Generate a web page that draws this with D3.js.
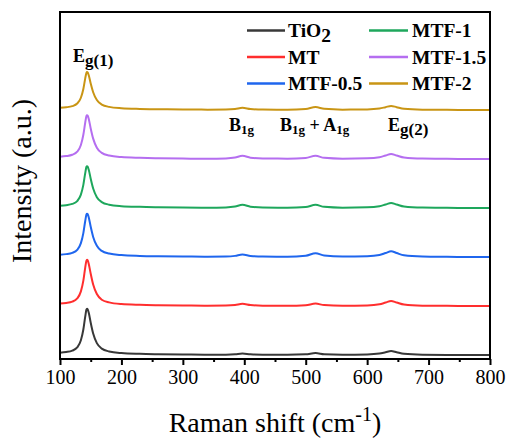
<!DOCTYPE html>
<html>
<head>
<meta charset="utf-8">
<script src="https://cdn.jsdelivr.net/npm/d3@7"></script>
<style>
  html, body { margin: 0; padding: 0; background: #ffffff; }
  svg { display: block; }
  text { font-family: "Liberation Serif", "Times New Roman", serif; fill: #000; }
</style>
</head>
<body>
<svg id="chart" width="512" height="440"></svg>
<script>
// Raman shift sampling (cm^-1)
const ramanShift = [100, 110, 120, 128, 134, 138, 141, 143, 144, 145, 147, 150, 154, 160, 168, 180, 200, 230, 260, 300,
  340, 370, 385, 397, 410, 430, 470, 500, 516, 530, 560, 600, 620, 630, 639, 648, 660, 690, 730, 770, 800];

// Intensities (a.u.), each spectrum before vertical stacking
const tio2 = [0.049, 0.062, 0.091, 0.156, 0.302, 0.522, 0.779, 0.927, 0.945, 0.936, 0.853, 0.659, 0.438, 0.244, 0.132, 0.074, 0.041, 0.025, 0.018, 0.013,
  0.008, 0.009, 0.016, 0.031, 0.015, 0.008, 0.007, 0.015, 0.040, 0.017, 0.007, 0.012, 0.030, 0.058, 0.084, 0.058, 0.025, 0.008, 0.004, 0.001, 0.000];
const mt = [0.050, 0.062, 0.090, 0.155, 0.300, 0.520, 0.780, 0.925, 0.945, 0.935, 0.850, 0.660, 0.440, 0.245, 0.130, 0.075, 0.040, 0.025, 0.018, 0.013,
  0.008, 0.011, 0.022, 0.046, 0.021, 0.009, 0.007, 0.018, 0.050, 0.020, 0.007, 0.014, 0.036, 0.072, 0.104, 0.072, 0.031, 0.009, 0.004, 0.001, 0.000];
const mtf05 = [0.048, 0.060, 0.086, 0.147, 0.284, 0.489, 0.730, 0.868, 0.885, 0.876, 0.799, 0.617, 0.411, 0.229, 0.125, 0.071, 0.040, 0.024, 0.017, 0.013,
  0.008, 0.011, 0.024, 0.051, 0.023, 0.010, 0.008, 0.026, 0.080, 0.031, 0.009, 0.016, 0.041, 0.082, 0.119, 0.082, 0.035, 0.010, 0.004, 0.001, 0.000];
const mtf1 = [0.047, 0.059, 0.084, 0.143, 0.275, 0.473, 0.706, 0.838, 0.855, 0.847, 0.772, 0.597, 0.398, 0.222, 0.122, 0.069, 0.039, 0.024, 0.017, 0.012,
  0.008, 0.013, 0.031, 0.066, 0.028, 0.011, 0.008, 0.022, 0.065, 0.025, 0.008, 0.014, 0.036, 0.072, 0.104, 0.072, 0.031, 0.009, 0.004, 0.001, 0.000];
const mtf15 = [0.048, 0.060, 0.087, 0.149, 0.287, 0.495, 0.738, 0.878, 0.895, 0.886, 0.808, 0.624, 0.416, 0.232, 0.126, 0.071, 0.040, 0.025, 0.017, 0.010,
  0.004, 0.012, 0.031, 0.066, 0.028, 0.011, 0.008, 0.022, 0.065, 0.025, 0.008, 0.014, 0.036, 0.072, 0.104, 0.072, 0.031, 0.009, 0.004, 0.001, 0.000];
const mtf2 = [0.046, 0.056, 0.079, 0.132, 0.251, 0.430, 0.640, 0.760, 0.775, 0.768, 0.700, 0.542, 0.362, 0.203, 0.112, 0.064, 0.037, 0.023, 0.017, 0.012,
  0.008, 0.011, 0.022, 0.046, 0.021, 0.009, 0.007, 0.020, 0.060, 0.024, 0.008, 0.012, 0.030, 0.058, 0.084, 0.058, 0.025, 0.008, 0.004, 0.001, 0.000];

const seriesNames = ["TiO2", "MT", "MTF-0.5", "MTF-1", "MTF-1.5", "MTF-2"];
const seriesValues = [tio2, mt, mtf05, mtf1, mtf15, mtf2];
const stackOffset = [0, 1, 2, 3, 4, 5];
const seriesColors = ["#383838", "#ff2e2e", "#1f66ee", "#1ea75c", "#b56ef0", "#c99514"];

const xTicks = [100, 200, 300, 400, 500, 600, 700, 800];
const xMinorTicks = [150, 250, 350, 450, 550, 650, 750];

const serif = '"Liberation Serif", "Times New Roman", serif';
const svg = d3.select("#chart");
const plot = { left: 60, right: 490, top: 12, bottom: 359 };

const x = d3.scaleLinear().domain([100, 800]).range([plot.left, plot.right]);
const y = d3.scaleLinear().domain([-0.08, 7.0]).range([plot.bottom, plot.top]);

// Spectra, stacked bottom to top
const line = d3.line()
  .x(d => x(d[0]))
  .y(d => y(d[1]))
  .curve(d3.curveMonotoneX);

const spectra = seriesValues.map((vals, i) =>
  ramanShift.map((s, k) => [s, vals[k] + stackOffset[i]]));

svg.append("g")
  .selectAll("path")
  .data(spectra)
  .join("path")
  .attr("d", line)
  .attr("fill", "none")
  .attr("stroke", (d, i) => seriesColors[i])
  .attr("stroke-width", 2)
  .attr("stroke-linejoin", "round");

// Frame
svg.append("rect")
  .attr("x", plot.left).attr("y", plot.top)
  .attr("width", plot.right - plot.left).attr("height", plot.bottom - plot.top)
  .attr("fill", "none").attr("stroke", "#000").attr("stroke-width", 2);

// Bottom axis: major and minor ticks
const axisMajor = d3.axisBottom(x).tickValues(xTicks).tickSize(6).tickPadding(5).tickFormat(d3.format("d"));
const gx = svg.append("g").attr("transform", `translate(0,${plot.bottom})`).call(axisMajor)
  .attr("font-family", serif).attr("font-size", 20);
gx.select(".domain").remove();
gx.selectAll("line").attr("stroke", "#000").attr("stroke-width", 2);
gx.selectAll("text").attr("fill", "#000");

const axisMinor = d3.axisBottom(x).tickValues(xMinorTicks).tickSize(3).tickFormat("");
const gm = svg.append("g").attr("transform", `translate(0,${plot.bottom})`).call(axisMinor);
gm.select(".domain").remove();
gm.selectAll("line").attr("stroke", "#000").attr("stroke-width", 2);

// Axis titles
const xTitle = svg.append("text")
  .attr("x", 275).attr("y", 432)
  .attr("text-anchor", "middle")
  .style("font-size", "28px");
xTitle.append("tspan").text("Raman shift (cm");
xTitle.append("tspan").attr("dy", -11).style("font-size", "20px").text("-1");
xTitle.append("tspan").attr("dy", 11).text(")");

svg.append("text")
  .attr("transform", "translate(31,181) rotate(-90)")
  .attr("text-anchor", "middle")
  .style("font-size", "28px")
  .text("Intensity (a.u.)");

// Legend
function labelWithSub(sel, name) {
  if (name === "TiO2") {
    sel.append("tspan").text("TiO");
    sel.append("tspan").attr("dy", 5).text("2");
  } else {
    sel.text(name);
  }
}

const legendCols = [{ x0: 247, x1: 285, tx: 288 }, { x0: 369, x1: 408, tx: 412 }];
const legendRows = [37, 63.5, 90];
seriesNames.forEach((name, i) => {
  const col = legendCols[Math.floor(i / 3)];
  const base = legendRows[i % 3];
  svg.append("line")
    .attr("x1", col.x0).attr("x2", col.x1)
    .attr("y1", base - 6.5).attr("y2", base - 6.5)
    .attr("stroke", seriesColors[i]).attr("stroke-width", 2.5);
  const t = svg.append("text")
    .attr("x", col.tx).attr("y", base)
    .style("font-size", "19.5px").style("font-weight", "bold");
  labelWithSub(t, name);
});

// Raman mode labels
function modeLabel(xPos, yPos, parts) {
  const t = svg.append("text").attr("x", xPos).attr("y", yPos).style("font-weight", "bold");
  parts.forEach(p => {
    t.append("tspan").attr("dy", p.dy || 0).style("font-size", p.size + "px").text(p.text);
  });
}
modeLabel(73, 62, [{ text: "E", size: 18 }, { text: "g(1)", size: 17, dy: 4 }]);
modeLabel(229, 131, [{ text: "B", size: 18 }, { text: "1g", size: 13, dy: 3 }]);
modeLabel(280, 131, [{ text: "B", size: 18 }, { text: "1g", size: 13, dy: 3 }, { text: " + A", size: 18, dy: -3 }, { text: "1g", size: 13, dy: 3 }]);
modeLabel(388, 131, [{ text: "E", size: 18 }, { text: "g(2)", size: 17, dy: 4 }]);
</script>
</body>
</html>
